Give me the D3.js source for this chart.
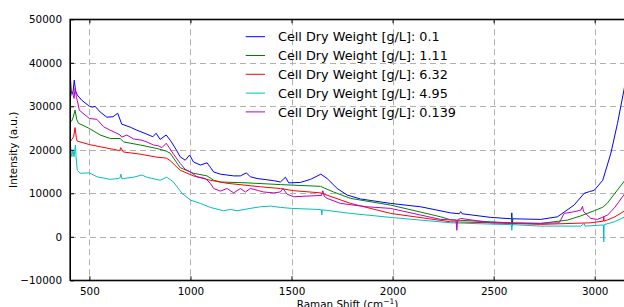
<!DOCTYPE html>
<style>
body { margin: 0; background: #fff; }
text { font-family: 'DejaVu Sans', sans-serif; fill: #000; }
</style>
<body></body>
<script src="https://d3js.org/d3.v7.min.js"></script>
<script>
// Raman spectra, [shift (cm-1), intensity (a.u.)]
const cdw0_1 = [[404, 31500], [412, 33500], [418, 32800], [425, 36000], [432, 33500], [440, 32600], [462, 31400], [500, 30000], [515, 29800], [528, 30000], [553, 28700], [586, 27500], [617, 27600], [640, 28400], [660, 25900], [702, 25200], [735, 24500], [784, 23600], [814, 23000], [830, 23800], [850, 22400], [880, 23400], [900, 22200], [930, 20000], [949, 18400], [974, 17600], [996, 18800], [1015, 17200], [1049, 16500], [1082, 17000], [1098, 16000], [1115, 14900], [1148, 14400], [1214, 14000], [1247, 14000], [1277, 14700], [1296, 13800], [1330, 13400], [1412, 12900], [1445, 12600], [1470, 13700], [1486, 12400], [1544, 12500], [1594, 13200], [1645, 14400], [1676, 13400], [1726, 11100], [1775, 9600], [1841, 8700], [1990, 7680], [2139, 6900], [2287, 5500], [2330, 5300], [2337, 5800], [2344, 5300], [2486, 4460], [2588, 4140], [2590, 5500], [2592, 2600], [2595, 4140], [2733, 4000], [2816, 4600], [2898, 7290], [2948, 10000], [2975, 10400], [2998, 10700], [3040, 13000], [3080, 19200], [3113, 26100], [3150, 35000]]

const cdw1_11 = [[404, 26400], [412, 26600], [420, 27500], [429, 29100], [437, 27000], [446, 26100], [500, 24900], [553, 23400], [603, 22600], [652, 22600], [670, 21800], [751, 21100], [834, 20300], [880, 19700], [900, 19200], [949, 15900], [1015, 14600], [1082, 14000], [1115, 13000], [1148, 12600], [1280, 12400], [1445, 12000], [1643, 11600], [1708, 10300], [1792, 8830], [1990, 7290], [2238, 4600], [2287, 3900], [2486, 3450], [2588, 3200], [2590, 4600], [2592, 3200], [2733, 3080], [2865, 3840], [2931, 4800], [2998, 6000], [3040, 6800], [3064, 7800], [3100, 10000], [3150, 13000]]

const cdw6_32 = [[404, 21800], [415, 22500], [422, 23000], [429, 25100], [436, 22500], [440, 22000], [500, 21200], [553, 20700], [620, 20100], [650, 19800], [655, 20500], [668, 19500], [751, 19000], [834, 18300], [880, 18100], [900, 17500], [949, 15300], [1015, 14000], [1098, 13000], [1181, 12300], [1346, 11500], [1445, 11100], [1511, 10600], [1643, 10100], [1792, 7680], [1990, 5380], [2287, 3450], [2486, 3220], [2733, 2850], [2981, 3220], [3043, 3600], [3045, 4600], [3047, 3600], [3064, 3900], [3100, 4600], [3150, 6000]]

const cdw4_95 = [[404, 24900], [408, 20000], [413, 18400], [418, 19900], [424, 18400], [431, 21100], [434, 18400], [440, 15300], [454, 14600], [500, 14700], [537, 13800], [603, 13200], [644, 13400], [652, 13600], [656, 14400], [660, 13400], [668, 13400], [718, 13700], [760, 14200], [784, 13700], [850, 13000], [883, 13700], [916, 12600], [958, 10000], [1000, 8430], [1049, 7680], [1098, 6760], [1164, 5980], [1197, 6300], [1230, 5980], [1296, 6530], [1346, 6900], [1396, 7060], [1445, 6760], [1500, 6530], [1627, 6300], [1648, 6200], [1650, 5000], [1652, 6200], [1792, 5380], [1990, 4460], [2287, 3220], [2486, 2920], [2588, 2800], [2590, 1500], [2592, 2800], [2733, 2460], [2931, 2460], [2948, 3100], [2952, 2460], [3031, 2690], [3043, 2700], [3045, -1150], [3047, 2800], [3097, 3450], [3150, 4600]]

const cdw0_139 = [[404, 46000], [407, 36000], [411, 33500], [418, 33000], [424, 31800], [429, 34100], [436, 32000], [440, 31400], [450, 29100], [479, 28000], [500, 27200], [537, 27000], [570, 25300], [603, 24500], [636, 23800], [652, 23400], [660, 22900], [685, 23400], [718, 22500], [760, 22200], [784, 21800], [817, 21100], [842, 20900], [859, 20500], [880, 21500], [895, 20500], [916, 19000], [949, 16900], [974, 15500], [1000, 14900], [1032, 13800], [1074, 13400], [1098, 12300], [1115, 11100], [1148, 10500], [1181, 11100], [1214, 10100], [1247, 11100], [1272, 10300], [1296, 11100], [1330, 10700], [1362, 10300], [1412, 10100], [1445, 10300], [1458, 11100], [1478, 9800], [1511, 9200], [1577, 9360], [1648, 9500], [1655, 10600], [1662, 9300], [1676, 8830], [1742, 7680], [1874, 6900], [1990, 6530], [2139, 5000], [2238, 4000], [2314, 3840], [2318, 1500], [2322, 3900], [2337, 4230], [2486, 3220], [2733, 3080], [2824, 3220], [2849, 5380], [2898, 5750], [2931, 6130], [2940, 7000], [2945, 5800], [2981, 4230], [3014, 4000], [3064, 5000], [3100, 6800], [3150, 10000]]

const seriesData = [cdw0_1, cdw1_11, cdw6_32, cdw4_95, cdw0_139]
const seriesLabels = ['Cell Dry Weight [g/L]: 0.1', 'Cell Dry Weight [g/L]: 1.11', 'Cell Dry Weight [g/L]: 6.32', 'Cell Dry Weight [g/L]: 4.95', 'Cell Dry Weight [g/L]: 0.139']
const seriesColors = ['#0000ff', '#008000', '#ff0000', '#00bfbf', '#bf00bf']

const xTicks = [500, 1000, 1500, 2000, 2500, 3000]
const yTicks = [-10000, 0, 10000, 20000, 30000, 40000, 50000]

const W = 624
const H = 307
const plot = { left: 70, right: 625, top: 19.3, bottom: 280.3 }

const x = d3.scaleLinear().domain([404, 3150]).range([plot.left, plot.right])
const y = d3.scaleLinear().domain([-10000, 50000]).range([plot.bottom, plot.top])

const svg = d3.select('body').append('svg')
    .attr('width', W)
    .attr('height', H)

svg.append('clipPath').attr('id', 'clip')
    .append('rect')
        .attr('x', plot.left).attr('y', plot.top)
        .attr('width', plot.right - plot.left).attr('height', plot.bottom - plot.top)

// grid
const grid = svg.append('g')
    .attr('stroke', '#b0b0b0')
    .attr('stroke-width', 1)
    .attr('stroke-dasharray', '6,4')
grid.selectAll('.vx').data(xTicks).enter().append('line')
    .attr('x1', d => Math.round(x(d)) + 0.5).attr('x2', d => Math.round(x(d)) + 0.5)
    .attr('y1', plot.top).attr('y2', plot.bottom)
grid.selectAll('.hy').data(yTicks.slice(1, -1)).enter().append('line')
    .attr('y1', d => Math.round(y(d)) + 0.5).attr('y2', d => Math.round(y(d)) + 0.5)
    .attr('x1', plot.left).attr('x2', plot.right)

// spectra
const line = d3.line().x(d => x(d[0])).y(d => y(d[1]))
svg.append('g').attr('clip-path', 'url(#clip)')
    .selectAll('path').data(seriesData).enter().append('path')
        .attr('d', line)
        .attr('fill', 'none')
        .attr('stroke', (d, i) => seriesColors[i])
        .attr('stroke-width', 1)
        .attr('stroke-linejoin', 'round')

// axes, classic style: ticks inside on all four sides
const fmt = d => d < 0 ? '\u2212' + Math.abs(d) : String(d)
svg.append('g')
    .attr('transform', `translate(0,${plot.bottom})`)
    .call(d3.axisBottom(x).tickValues(xTicks).tickSizeInner(-4).tickSizeOuter(0).tickPadding(7).tickFormat(fmt))
svg.append('g')
    .attr('transform', `translate(0,${plot.top})`)
    .call(d3.axisTop(x).tickValues(xTicks).tickSizeInner(-4).tickSizeOuter(0).tickFormat(''))
svg.append('g')
    .attr('transform', `translate(${plot.left},0)`)
    .call(d3.axisLeft(y).tickValues(yTicks).tickSizeInner(-4).tickSizeOuter(0).tickPadding(8).tickFormat(fmt))

svg.selectAll('.tick text')
    .style('font-family', "'DejaVu Sans', sans-serif")
    .style('font-size', '10.4px')
svg.selectAll('.domain, .tick line').attr('stroke', '#000')

// frame
svg.append('rect')
    .attr('x', plot.left).attr('y', plot.top)
    .attr('width', plot.right - plot.left).attr('height', plot.bottom - plot.top)
    .attr('fill', 'none').attr('stroke', '#000').attr('stroke-width', 1.2)

svg.append('text')
    .attr('x', (plot.left + plot.right) / 2).attr('y', 308)
    .attr('text-anchor', 'middle')
    .style('font-size', '10.4px')
    .html('Raman Shift (cm<tspan dy="-4" font-size="7.5px">\u22121</tspan><tspan dy="4">)</tspan>')

svg.append('text')
    .attr('transform', `translate(17,${(plot.top + plot.bottom) / 2}) rotate(-90)`)
    .attr('text-anchor', 'middle')
    .style('font-size', '10.4px')
    .text('Intensity (a.u.)')

// legend, no frame
const legend = svg.append('g')
legend.selectAll('g').data(seriesLabels).enter().append('g')
    .attr('transform', (d, i) => `translate(0,${36.7 + i * 18.8})`)
    .each(function (d, i) {
        const g = d3.select(this)
        g.append('line').attr('x1', 245.7).attr('x2', 265)
            .attr('stroke', seriesColors[i]).attr('stroke-width', 1)
        g.append('text').attr('x', 278).attr('dy', '0.36em')
            .style('font-size', '12.8px').text(d)
    })
</script>
